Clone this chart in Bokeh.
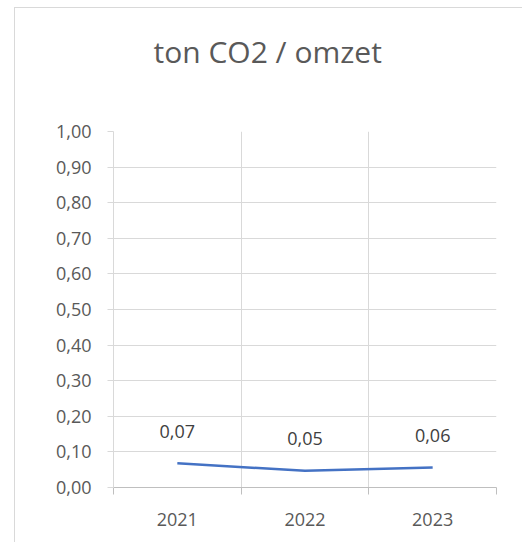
from bokeh.plotting import figure
from bokeh.models import ColumnDataSource, FixedTicker, CustomJSTickFormatter, Range1d, Title
from bokeh.core.properties import value
from bokeh.embed import file_html
from bokeh.resources import INLINE

# ---- data ----
years = ["2021", "2022", "2023"]
values = [0.068, 0.047, 0.056]
data_labels = ["0,07", "0,05", "0,06"]
y_ticks = [0.0, 0.1, 0.2, 0.3, 0.4, 0.5, 0.6, 0.7, 0.8, 0.9, 1.0]
title_text = "ton CO2 / omzet"

FONT = "Open Sans"
GRID = "#d9d9d9"
TXT = "#595959"

xs = [i + 0.5 for i in range(len(years))]
bounds = list(range(len(years) + 1))
src = ColumnDataSource(dict(x=xs, y=values, lab=data_labels))

p = figure(width=508, height=535, output_backend="svg", toolbar_location=None,
           x_range=Range1d(0, len(years)), y_range=Range1d(0, 1),
           min_border_left=98, min_border_right=27,
           min_border_top=123, min_border_bottom=56)

p.styles = {"margin-left": "14px", "margin-top": "7px",
            "border-left": "1px solid #d9d9d9",
            "border-top": "1px solid #d9d9d9"}

p.outline_line_color = None
p.background_fill_color = "white"
p.border_fill_color = "white"

# spacer between plot area and title (nearest the frame)
p.add_layout(Title(text=" ", text_font_size="1px", standoff=52), "above")
# chart title
p.add_layout(Title(text=title_text, text_font=FONT, text_font_size="30px",
                   text_font_style="normal", text_color=TXT,
                   align="left", offset=40, standoff=10), "above")

# line + labels
p.line("x", "y", source=src, line_color="#4472C4", line_width=2.5)
p.text("x", "y", text="lab", source=src, text_font=value(FONT),
       text_font_size="18px", text_color="#404040", text_align="center",
       text_baseline="middle", y_offset=-32)

# x axis
xa = p.xaxis[0]
xa.ticker = FixedTicker(ticks=xs, minor_ticks=bounds)
xa.major_label_overrides = {x: y for x, y in zip(xs, years)}
xa.major_tick_out = 0
xa.major_tick_in = 0
xa.minor_tick_out = 7
xa.minor_tick_in = 0
xa.minor_tick_line_color = "#bfbfbf"
xa.axis_line_color = "#bfbfbf"
xa.major_label_text_font = FONT
xa.major_label_text_font_size = "18px"
xa.major_label_text_color = TXT
xa.major_label_standoff = 18

# y axis
ya = p.yaxis[0]
ya.ticker = FixedTicker(ticks=y_ticks)
ya.formatter = CustomJSTickFormatter(code="return tick.toFixed(2).replace('.', ',');")
ya.major_tick_out = 6
ya.major_tick_in = 0
ya.minor_tick_out = 0
ya.minor_tick_in = 0
ya.major_tick_line_color = GRID
ya.axis_line_color = GRID
ya.major_label_text_font = FONT
ya.major_label_text_font_size = "18px"
ya.major_label_text_color = TXT
ya.major_label_standoff = 16

# grids
p.xgrid.ticker = FixedTicker(ticks=bounds)
p.xgrid.grid_line_color = GRID
p.ygrid.ticker = FixedTicker(ticks=y_ticks)
p.ygrid.grid_line_color = GRID

open("out.html", "w").write(file_html(p, INLINE))
